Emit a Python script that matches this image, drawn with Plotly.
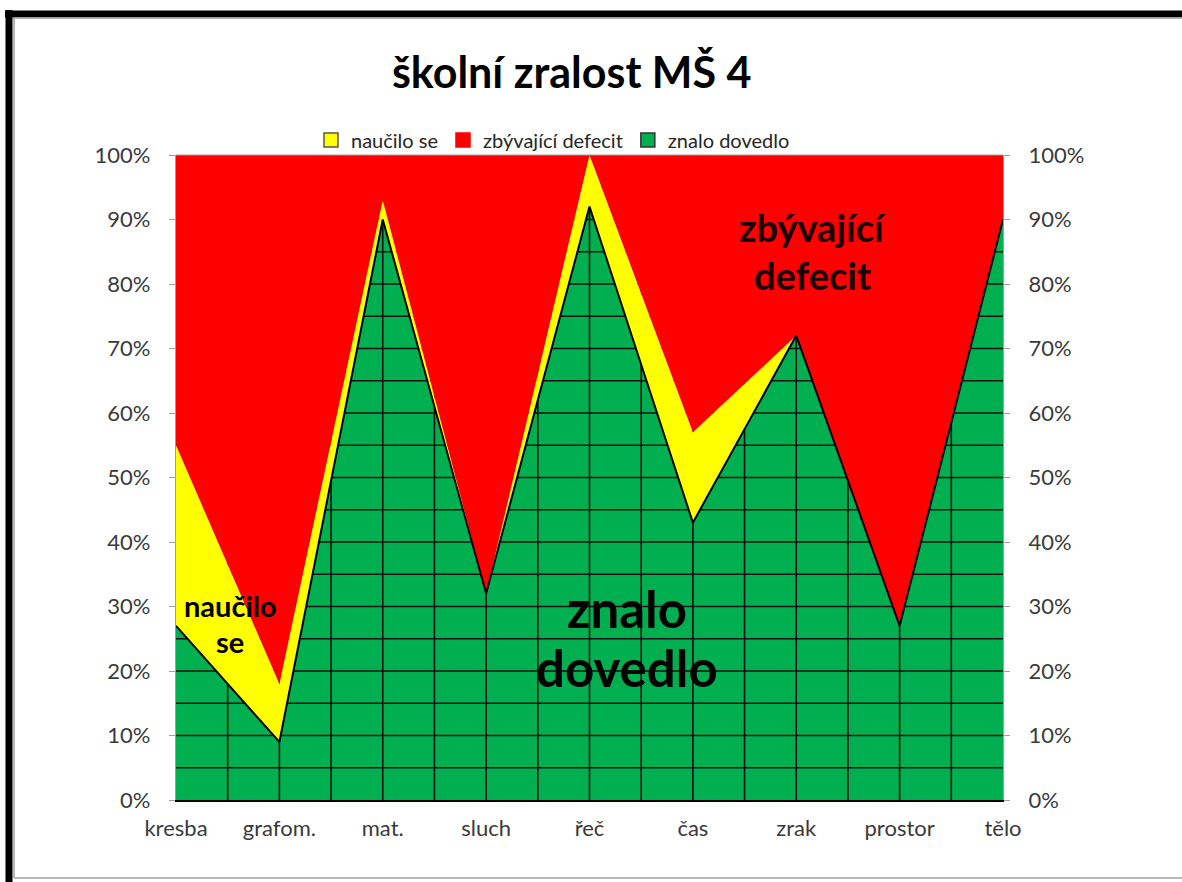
import plotly.graph_objects as go

categories = ["kresba", "grafom.", "mat.", "sluch", "řeč", "čas", "zrak", "prostor", "tělo"]
znalo_dovedlo = [27, 9, 90, 32, 92, 43, 72, 27, 90]
naucilo_se = [28, 9, 3, 0, 8, 14, 0, 0, 0]
zbyvajici_defecit = [45, 82, 7, 68, 0, 43, 28, 73, 10]
y_ticks = [0, 10, 20, 30, 40, 50, 60, 70, 80, 90, 100]
y_tick_labels = [f"{v}%" for v in y_ticks]

GREEN = "#00B050"
YELLOW = "#FFFF00"
RED = "#FF0000"
FONT = "Lato"

x = list(range(len(categories)))
green_top = znalo_dovedlo
yellow_top = [g + n for g, n in zip(znalo_dovedlo, naucilo_se)]
red_top = [g + n + r for g, n, r in zip(znalo_dovedlo, naucilo_se, zbyvajici_defecit)]

fig = go.Figure()

# green area
fig.add_trace(go.Scatter(x=x, y=green_top, mode="lines", fill="tozeroy", fillcolor=GREEN,
                         line=dict(color="black", width=0), showlegend=False, hoverinfo="skip"))

# grid pattern (visible only where green shows)
gx, gy = [], []
n = len(categories) - 1
for k in range(1, 2 * n):
    gx += [k / 2, k / 2, None]
    gy += [0, 100, None]
for v in range(5, 100, 5):
    gx += [0, n, None]
    gy += [v, v, None]
fig.add_trace(go.Scatter(x=gx, y=gy, mode="lines", line=dict(color="#111111", width=1.6),
                         showlegend=False, hoverinfo="skip"))

# yellow band
fig.add_trace(go.Scatter(x=x, y=green_top, mode="lines", line=dict(width=0),
                         showlegend=False, hoverinfo="skip"))
fig.add_trace(go.Scatter(x=x, y=yellow_top, mode="lines", fill="tonexty", fillcolor=YELLOW,
                         line=dict(width=0), showlegend=False, hoverinfo="skip"))
# red band
fig.add_trace(go.Scatter(x=x, y=red_top, mode="lines", fill="tonexty", fillcolor=RED,
                         line=dict(width=0), showlegend=False, hoverinfo="skip"))
# black outline of green series
fig.add_trace(go.Scatter(x=x, y=green_top, mode="lines", line=dict(color="black", width=2),
                         showlegend=False, hoverinfo="skip"))
# invisible trace for right axis
fig.add_trace(go.Scatter(x=x, y=green_top, yaxis="y2", mode="lines", line=dict(width=0),
                         opacity=0, showlegend=False, hoverinfo="skip"))

# legend entries
for name, col, lc in [("naučilo se", YELLOW, "#555555"),
                      ("zbývající defecit", RED, RED),
                      ("znalo dovedlo", GREEN, "#333333")]:
    fig.add_trace(go.Scatter(x=[None], y=[None], mode="markers", name=name,
                             marker=dict(symbol="square", size=14, color=col,
                                         line=dict(color=lc, width=1.5))))

W, H = 1182, 882
L, R, T, B = 176, 179, 155, 82
PW, PH = W - L - R, H - T - B


def px(xp):
    return (xp - L) / PW


def py(yp):
    return (H - B - yp) / PH


shapes = [
    # outer frame
    dict(type="line", xref="paper", yref="paper", x0=px(9), x1=px(9), y0=py(10), y1=py(885),
         line=dict(color="black", width=7)),
    dict(type="line", xref="paper", yref="paper", x0=px(5), x1=px(1190), y0=py(14), y1=py(14),
         line=dict(color="black", width=7)),
    dict(type="line", xref="paper", yref="paper", x0=px(14), x1=px(14), y0=py(18), y1=py(878),
         line=dict(color="#A0A0A0", width=1.5)),
    dict(type="line", xref="paper", yref="paper", x0=px(14), x1=px(1190), y0=py(18), y1=py(18),
         line=dict(color="#A0A0A0", width=1.5)),
    dict(type="line", xref="paper", yref="paper", x0=px(14), x1=px(1190), y0=py(878), y1=py(878),
         line=dict(color="#A0A0A0", width=1.5)),
    # plot area top border
    dict(type="line", xref="paper", yref="paper", x0=0, x1=1, y0=1, y1=1,
         line=dict(color="#A0A0A0", width=1.2)),
]


def dx(xp):
    return (xp - L) / (PW / (len(categories) - 1))


def dy(yp):
    return (H - B - yp) / (PH / 100)


labels = [
    ("naučilo", 230, 605, 29, "black"),
    ("se", 230, 641, 29, "black"),
    ("znalo", 627, 608, 51, "black"),
    ("dovedlo", 627, 667, 51, "black"),
    ("zbývající", 812, 227, 38, "#1a0000"),
    ("defecit", 812, 275, 38, "#1a0000"),
]
annotations = [
    dict(text=f"<b>{t}</b>", x=dx(xp), y=dy(yp), xref="x", yref="y", showarrow=False,
         xanchor="center", yanchor="middle", font=dict(family=FONT, size=s, color=c))
    for t, xp, yp, s, c in labels
]

tick_font = dict(family=FONT, size=22, color="#3a3a3a")

fig.update_layout(
    width=W, height=H,
    margin=dict(l=L, r=R, t=T, b=B, pad=0),
    paper_bgcolor="white", plot_bgcolor="white",
    title=dict(text="<b>školní zralost MŠ 4</b>", x=px(576), xanchor="center",
               y=1 - 73 / H, yanchor="middle",
               font=dict(family=FONT, size=43, color="black")),
    showlegend=True,
    legend=dict(orientation="h", x=px(553), xanchor="center", y=py(140), yanchor="middle",
                traceorder="normal",
                font=dict(family=FONT, size=20, color="#262626"), bgcolor="rgba(0,0,0,0)",
                itemwidth=30, tracegroupgap=0),
    xaxis=dict(range=[0, len(categories) - 1], tickvals=x, ticktext=categories,
               showgrid=False, zeroline=False, showline=True, linecolor="black", linewidth=2,
               ticks="", tickfont=tick_font, ticklabelstandoff=8),
    yaxis=dict(range=[0, 100], tickvals=y_ticks, ticktext=y_tick_labels, showgrid=False,
               zeroline=False, showline=True, linecolor="#A0A0A0", linewidth=1.2, ticks="outside",
               tickcolor="#A0A0A0", ticklen=6, tickfont=tick_font, ticklabelstandoff=14),
    yaxis2=dict(range=[0, 100], tickvals=y_ticks, ticktext=y_tick_labels, overlaying="y",
                side="right", showgrid=False, zeroline=False, showline=True, linecolor="#A0A0A0",
                linewidth=1.2, ticks="outside", tickcolor="#A0A0A0", ticklen=6,
                tickfont=tick_font, ticklabelstandoff=14),
    shapes=shapes,
    annotations=annotations,
    hovermode=False,
)

fig.write_html("out.html", config={"displayModeBar": False},
               post_script="document.body.style.margin='0';document.body.style.overflow='hidden';"
                           "document.documentElement.style.overflow='hidden';")
